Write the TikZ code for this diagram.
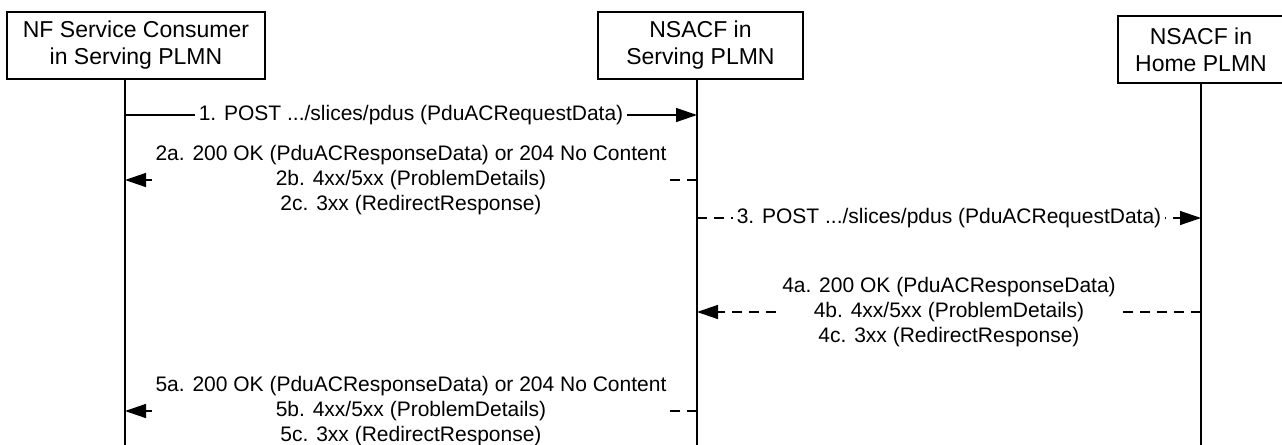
\documentclass[tikz,border=0pt]{standalone}
\usepackage{fontspec}
\setmainfont{Liberation Sans}
\usetikzlibrary{arrows.meta}

\begin{document}
\begin{tikzpicture}[x=0.5pt,y=-0.5pt,
    entity/.style={draw,line width=0.7pt,minimum width=#1,minimum height=33.5pt,
      inner sep=0pt,align=center,font=\fontsize{11.5}{13.5}\selectfont},
    msg/.style={fill=white,inner xsep=2pt,inner ysep=0pt,align=center,
      font=\fontsize{10.5}{12.5}\selectfont},
    call/.style={line width=0.7pt,-{Triangle[length=10.5pt,width=7pt]}},
    reply/.style={call,dash pattern=on 5pt off 3.5pt}]
    \useasboundingbox (0,0) rectangle (1282,445);
    \node[entity=129pt] (nfc) at (136,45.5) {NF Service Consumer\\in Serving PLMN};
    \node[entity=102.5pt] (nsacfs) at (700.5,45.5) {NSACF in\\Serving PLMN};
    \node[entity=83pt] (nsacfh) at (1201,49.5) {NSACF in\\Home PLMN};
    \foreach \n/\x in {nfc/125,nsacfs/697,nsacfh/1201}
    \draw[line width=0.7pt] (\n.south -| \x,0) -- (\x,445);
    \foreach \y/\k in {115/1,180/2,411/5}
    {\coordinate (c\k) at (125,\y); \coordinate (s\k) at (697,\y);}
    \foreach \y/\k in {218/3,312/4}
    {\coordinate (s\k) at (697,\y); \coordinate (h\k) at (1201,\y);}
    \draw[call] (c1) -- node[msg] {1. POST .../slices/pdus (PduACRequestData)} (s1);
    \draw[reply] (s2) -- node[msg] {2a. 200 OK (PduACResponseData) or 204 No Content\\
      2b. 4xx/5xx (ProblemDetails)\\2c. 3xx (RedirectResponse)} (c2);
    \draw[reply] (s3) -- node[msg] {3. POST .../slices/pdus (PduACRequestData)} (h3);
    \draw[reply] (h4) -- node[msg] {4a. 200 OK (PduACResponseData)\\
      4b. 4xx/5xx (ProblemDetails)\\4c. 3xx (RedirectResponse)} (s4);
    \draw[reply] (s5) -- node[msg] {5a. 200 OK (PduACResponseData) or 204 No Content\\
      5b. 4xx/5xx (ProblemDetails)\\5c. 3xx (RedirectResponse)} (c5);
\end{tikzpicture}
\end{document}
